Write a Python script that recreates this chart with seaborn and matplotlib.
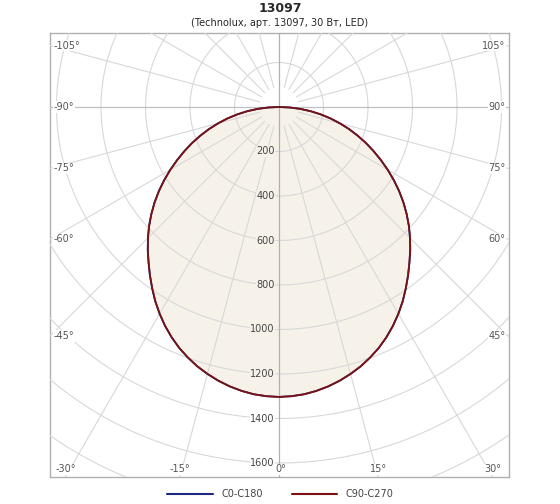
import numpy as np
import pandas as pd
import matplotlib
matplotlib.use("Agg")
import matplotlib.pyplot as plt
import seaborn as sns

gamma = [0, 2.5, 5, 7.5, 10, 12.5, 15, 17.5, 20, 22.5, 25, 27.5, 30, 32.5, 35, 37.5, 40, 42.5,
         45, 47.5, 50, 52.5, 55, 57.5, 60, 62.5, 65, 67.5, 70, 72.5, 75, 77.5, 80, 82.5, 85, 87.5, 90]
c0_c180 = [1303, 1301, 1296, 1287, 1275, 1260, 1242, 1222, 1198, 1172, 1142, 1109, 1073, 1035, 994, 953,
           912, 873, 833, 792, 749, 705, 659, 612, 564, 516, 469, 423, 376, 330, 283, 237, 190, 143, 95, 48, 0]
c90_c270 = list(c0_c180)
radial_ticks = [200, 400, 600, 800, 1000, 1200, 1400, 1600]
series_names = ["C0-C180", "C90-C270"]
colors = ["#1a2a80", "#7a1212"]

sns.set_theme(style="white")
plt.rcParams['font.family'] = ['DejaVu Sans']

W, H = 560, 504
fig = plt.figure(figsize=(W/100, H/100), dpi=100)
s = 0.2225
cx, cy = 279, 107
L, R, T, B = 50, 509, 33, 477
ax = fig.add_axes([L/W, (H-B)/H, (R-L)/W, (B-T)/H])
xmin, xmax = (L-cx)/s, (R-cx)/s
ymax, ymin = (cy-T)/s, -(B-cy)/s
ax.set_xlim(xmin, xmax); ax.set_ylim(ymin, ymax)
ax.set_xticks([]); ax.set_yticks([])
for sp in ax.spines.values():
    sp.set_color("#b0b0b0"); sp.set_linewidth(1)

gc = "#d8d8d8"
th = np.linspace(0, 2*np.pi, 400)
for r in range(200, 3000, 200):
    ax.plot(r*np.cos(th), r*np.sin(th), color=gc, lw=0.8, zorder=3)
for a in range(0, 360, 15):
    if a % 90 == 0:
        continue
    t = np.deg2rad(a)
    ax.plot([90*np.sin(t), 4000*np.sin(t)], [-90*np.cos(t), -4000*np.cos(t)], color=gc, lw=0.8, zorder=3)
ax.axhline(0, color="#c0c0c0", lw=0.9, zorder=3)
ax.axvline(0, color="#b0b0b0", lw=0.9, zorder=3)

def curve(vals):
    g = np.deg2rad(np.array(gamma + gamma[::-1][1:]))
    sign = np.array([1]*len(gamma) + [-1]*(len(gamma)-1))
    v = np.array(vals + vals[::-1][1:])
    return pd.DataFrame({"x": v*np.sin(g)*sign, "y": -v*np.cos(g)})

d2 = curve(c90_c270)
ax.fill(d2.x, d2.y, color="#f6f2ea", zorder=2)
for vals, name, c in zip([c0_c180, c90_c270], series_names, colors):
    d = curve(vals)
    sns.lineplot(data=d, x="x", y="y", sort=False, estimator=None, color=c, lw=1.3, ax=ax, zorder=4, label=name)
ax.set_xlabel(""); ax.set_ylabel("")
ax.legend_.remove()

for r in radial_ticks:
    ax.text(-20, -r, str(r), ha="right", va="center", fontsize=7, color="#444444", zorder=5,
            bbox=dict(fc="white" if r > 1300 else "#f6f2ea", ec="none", pad=0.3))

lab = dict(fontsize=7, color="#555555", zorder=5, bbox=dict(fc="white", ec="none", pad=0.5))
for a in [105, 90, 75, 60, 45]:
    yy = -abs(xmin)*np.cos(np.deg2rad(a))/np.sin(np.deg2rad(a))
    ax.text(xmin+15, yy, f"-{a}°", ha="left", va="center", **lab)
    ax.text(xmax-15, yy, f"{a}°", ha="right", va="center", **lab)
for a in [-30, -15, 0, 15, 30]:
    xx = -ymin*np.tan(np.deg2rad(a))
    xx = min(max(xx, xmin+45), xmax-45)
    ax.text(xx+(8 if a == 0 else 0), ymin+12, f"{a}°", ha="center", va="bottom", **lab)

fig.text(0.5, 1-9/H, "13097", ha="center", va="center", fontsize=9, fontweight="bold")
fig.text(0.5, 1-23/H, "(Technolux, арт. 13097, 30 Вт, LED)", ha="center", va="center", fontsize=7)

la = fig.add_axes([0, 0, 1, 0.04]); la.axis("off"); la.set_xlim(0, W); la.set_ylim(0, 1)
la.plot([167, 213], [0.5, 0.5], color=colors[0], lw=1.5)
la.text(222, 0.5, series_names[0], va="center", fontsize=7, color="#444444")
la.plot([292, 337], [0.5, 0.5], color=colors[1], lw=1.5)
la.text(346, 0.5, series_names[1], va="center", fontsize=7, color="#444444")

fig.savefig("out.png", dpi=100)
